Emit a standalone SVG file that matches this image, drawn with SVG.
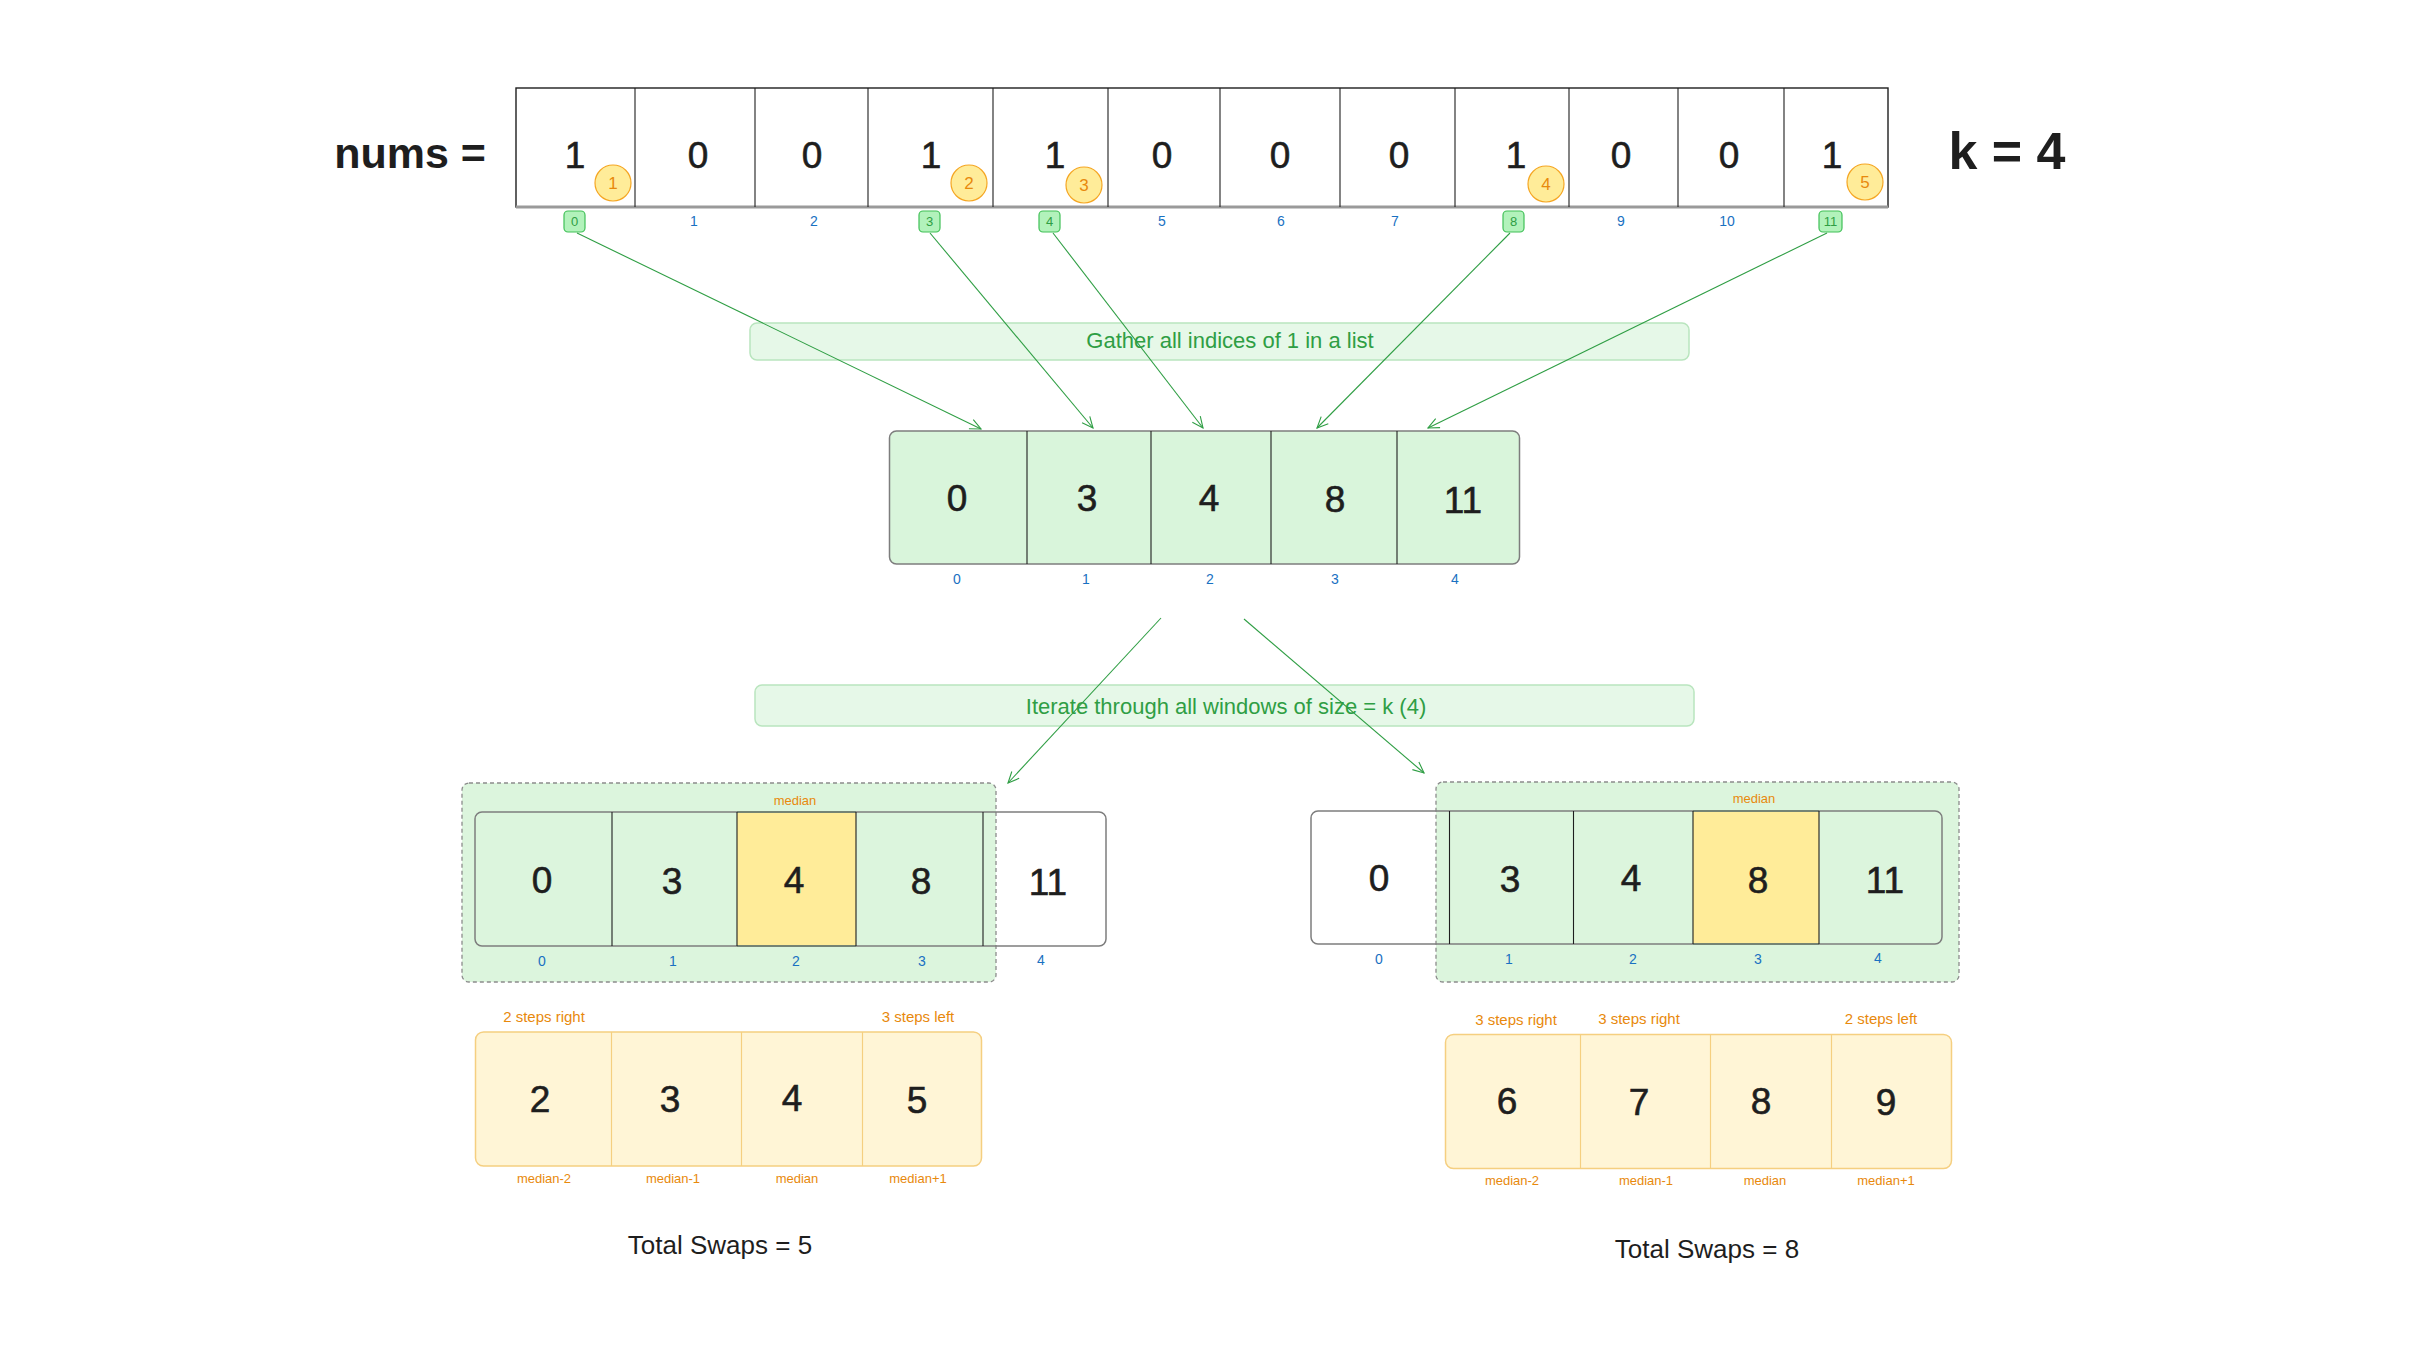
<svg xmlns="http://www.w3.org/2000/svg" width="2420" height="1372" viewBox="0 0 2420 1372">
<style>
text{font-family:"Liberation Sans",Arial,sans-serif;text-anchor:middle}
.dig{font-size:37px;fill:#1e1e1e;stroke:#1e1e1e;stroke-width:0.6}
.idx{font-size:14px;fill:#1971c2}
.gidx{font-size:13px;fill:#2f9e44}
.circ{font-size:17px;fill:#e8890c}
.lbl{font-size:22px;fill:#2f9e44}
.org{font-size:15px;fill:#e8890c}
.med{font-size:13px;fill:#e8890c}
.tot{font-size:26px;fill:#1e1e1e}
.div{stroke:#1e1e1e;stroke-width:1.1}
.ydiv{stroke:#f5cf80;stroke-width:1.2}
.lblbox{fill:#e6f8e8;stroke:#b9e5be;stroke-width:1.5}
.garr{fill:#d9f5db;stroke:#7d7d7d;stroke-width:1.5}
.win{fill:#dcf5dd;stroke:#8c8c8c;stroke-width:1.3;stroke-dasharray:4 3}
.arrbox{fill:none;stroke:#7d7d7d;stroke-width:1.5}
.yarr{fill:#fff5d6;stroke:#f5cf80;stroke-width:1.5}
.ycell{fill:#ffec99}
.gbox{fill:#b2f2bb;stroke:#40c057;stroke-width:1.2}
.oc{fill:#ffec99;stroke:#f5a623;stroke-width:1.2}
.conn{stroke:#2f9e44;stroke-width:1.1;fill:none;marker-end:url(#ah)}
</style>
<defs>
<marker id="ah" markerWidth="14" markerHeight="14" refX="12" refY="7" orient="auto" markerUnits="userSpaceOnUse">
<path d="M1,2 L12,7 L1,12" fill="none" stroke="#2f9e44" stroke-width="1.1"/>
</marker>
</defs>
<rect width="2420" height="1372" fill="#ffffff"/>

<g id="nums-label"><text x="410" y="168" style="font-size:43px;font-weight:bold;fill:#1e1e1e">nums =</text></g>
<g id="k-label"><text x="2007" y="169" style="font-size:52px;font-weight:bold;fill:#1e1e1e">k = 4</text></g>

<g id="nums-array">
<rect x="516" y="88" width="1372" height="119" fill="#ffffff" stroke="#1e1e1e" stroke-width="1.4"/>
<line x1="516" y1="207" x2="1888" y2="207" stroke="#9a9a9a" stroke-width="3"/>
<line class="div" x1="635" y1="88" x2="635" y2="207"/>
<line class="div" x1="755" y1="88" x2="755" y2="207"/>
<line class="div" x1="868" y1="88" x2="868" y2="207"/>
<line class="div" x1="993" y1="88" x2="993" y2="207"/>
<line class="div" x1="1108" y1="88" x2="1108" y2="207"/>
<line class="div" x1="1220" y1="88" x2="1220" y2="207"/>
<line class="div" x1="1340" y1="88" x2="1340" y2="207"/>
<line class="div" x1="1455" y1="88" x2="1455" y2="207"/>
<line class="div" x1="1569" y1="88" x2="1569" y2="207"/>
<line class="div" x1="1678" y1="88" x2="1678" y2="207"/>
<line class="div" x1="1784" y1="88" x2="1784" y2="207"/>
<text class="dig" x="575" y="168">1</text>
<text class="dig" x="698" y="168">0</text>
<text class="dig" x="812" y="168">0</text>
<text class="dig" x="931" y="168">1</text>
<text class="dig" x="1055" y="168">1</text>
<text class="dig" x="1162" y="168">0</text>
<text class="dig" x="1280" y="168">0</text>
<text class="dig" x="1399" y="168">0</text>
<text class="dig" x="1516" y="168">1</text>
<text class="dig" x="1621" y="168">0</text>
<text class="dig" x="1729" y="168">0</text>
<text class="dig" x="1832" y="168">1</text>
</g>

<g id="one-markers">
<circle class="oc" cx="613" cy="183" r="18"/><text class="circ" x="613" y="189">1</text>
<circle class="oc" cx="969" cy="183" r="18"/><text class="circ" x="969" y="189">2</text>
<circle class="oc" cx="1084" cy="185" r="18"/><text class="circ" x="1084" y="191">3</text>
<circle class="oc" cx="1546" cy="184" r="18"/><text class="circ" x="1546" y="190">4</text>
<circle class="oc" cx="1865" cy="182" r="18"/><text class="circ" x="1865" y="188">5</text>
</g>

<g id="nums-indices">
<rect class="gbox" x="564" y="211" width="21" height="21" rx="4"/><text class="gidx" x="574.5" y="226">0</text>
<text class="idx" x="694" y="226">1</text>
<text class="idx" x="814" y="226">2</text>
<rect class="gbox" x="919" y="211" width="21" height="21" rx="4"/><text class="gidx" x="929.5" y="226">3</text>
<rect class="gbox" x="1039" y="211" width="21" height="21" rx="4"/><text class="gidx" x="1049.5" y="226">4</text>
<text class="idx" x="1162" y="226">5</text>
<text class="idx" x="1281" y="226">6</text>
<text class="idx" x="1395" y="226">7</text>
<rect class="gbox" x="1503" y="211" width="21" height="21" rx="4"/><text class="gidx" x="1513.5" y="226">8</text>
<text class="idx" x="1621" y="226">9</text>
<text class="idx" x="1727" y="226">10</text>
<rect class="gbox" x="1819" y="211" width="23" height="21" rx="4"/><text class="gidx" x="1830.5" y="226">11</text>
</g>

<g id="gather-label">
<rect class="lblbox" x="750" y="323" width="939" height="37" rx="7"/>
<text class="lbl" x="1230" y="348">Gather all indices of 1 in a list</text>
</g>

<g id="ones-list">
<rect class="garr" x="889.5" y="431" width="630" height="133" rx="7"/>
<line class="div" x1="1027" y1="431" x2="1027" y2="564"/>
<line class="div" x1="1151" y1="431" x2="1151" y2="564"/>
<line class="div" x1="1271" y1="431" x2="1271" y2="564"/>
<line class="div" x1="1397" y1="431" x2="1397" y2="564"/>
<text class="dig" x="957" y="511">0</text>
<text class="dig" x="1087" y="511">3</text>
<text class="dig" x="1209" y="511">4</text>
<text class="dig" x="1335" y="512">8</text>
<text class="dig" x="1463" y="513">11</text>
<text class="idx" x="957" y="584">0</text>
<text class="idx" x="1086" y="584">1</text>
<text class="idx" x="1210" y="584">2</text>
<text class="idx" x="1335" y="584">3</text>
<text class="idx" x="1455" y="584">4</text>
</g>

<g id="iterate-label">
<rect class="lblbox" x="755" y="685" width="939" height="41" rx="7"/>
<text class="lbl" x="1226" y="714">Iterate through all windows of size = k (4)</text>
</g>

<g id="window-1">
<rect class="win" x="462" y="783" width="534" height="199" rx="7"/>
<rect class="ycell" x="737" y="812" width="119" height="134"/>
<line x1="737" y1="812" x2="856" y2="812" stroke="#2f7d3a" stroke-width="1.5"/>
<line x1="737" y1="946" x2="856" y2="946" stroke="#2f7d3a" stroke-width="1.5"/>
<rect class="arrbox" x="475" y="812" width="631" height="134" rx="7"/>
<line class="div" x1="612" y1="812" x2="612" y2="946"/>
<line class="div" x1="737" y1="812" x2="737" y2="946"/>
<line class="div" x1="856" y1="812" x2="856" y2="946"/>
<line class="div" x1="983" y1="812" x2="983" y2="946"/>
<text class="med" x="795" y="805">median</text>
<text class="dig" x="542" y="893">0</text>
<text class="dig" x="672" y="894">3</text>
<text class="dig" x="794" y="893">4</text>
<text class="dig" x="921" y="894">8</text>
<text class="dig" x="1048" y="895">11</text>
<text class="idx" x="542" y="966">0</text>
<text class="idx" x="673" y="966">1</text>
<text class="idx" x="796" y="966">2</text>
<text class="idx" x="922" y="966">3</text>
<text class="idx" x="1041" y="965">4</text>
</g>

<g id="window-2">
<rect class="win" x="1436" y="782" width="523" height="200" rx="7"/>
<rect class="ycell" x="1693" y="811" width="126" height="133"/>
<line x1="1693" y1="811" x2="1819" y2="811" stroke="#2f7d3a" stroke-width="1.5"/>
<line x1="1693" y1="944" x2="1819" y2="944" stroke="#2f7d3a" stroke-width="1.5"/>
<rect class="arrbox" x="1311" y="811" width="631" height="133" rx="7"/>
<line class="div" x1="1449.5" y1="811" x2="1449.5" y2="944"/>
<line class="div" x1="1573.5" y1="811" x2="1573.5" y2="944"/>
<line class="div" x1="1693" y1="811" x2="1693" y2="944"/>
<line class="div" x1="1819" y1="811" x2="1819" y2="944"/>
<text class="med" x="1754" y="803">median</text>
<text class="dig" x="1379" y="891">0</text>
<text class="dig" x="1510" y="892">3</text>
<text class="dig" x="1631" y="891">4</text>
<text class="dig" x="1758" y="893">8</text>
<text class="dig" x="1885" y="893">11</text>
<text class="idx" x="1379" y="964">0</text>
<text class="idx" x="1509" y="964">1</text>
<text class="idx" x="1633" y="964">2</text>
<text class="idx" x="1758" y="964">3</text>
<text class="idx" x="1878" y="963">4</text>
</g>

<g id="targets-1">
<text class="org" x="544" y="1022">2 steps right</text>
<text class="org" x="918" y="1022">3 steps left</text>
<rect class="yarr" x="475.5" y="1032" width="506" height="134" rx="8"/>
<line class="ydiv" x1="611.5" y1="1032" x2="611.5" y2="1166"/>
<line class="ydiv" x1="741.5" y1="1032" x2="741.5" y2="1166"/>
<line class="ydiv" x1="862.5" y1="1032" x2="862.5" y2="1166"/>
<text class="dig" x="540" y="1112">2</text>
<text class="dig" x="670" y="1112">3</text>
<text class="dig" x="792" y="1111">4</text>
<text class="dig" x="917" y="1113">5</text>
<text class="med" x="544" y="1183">median-2</text>
<text class="med" x="673" y="1183">median-1</text>
<text class="med" x="797" y="1183">median</text>
<text class="med" x="918" y="1183">median+1</text>
</g>

<g id="targets-2">
<text class="org" x="1516" y="1025">3 steps right</text>
<text class="org" x="1639" y="1024">3 steps right</text>
<text class="org" x="1881" y="1024">2 steps left</text>
<rect class="yarr" x="1445.5" y="1034.5" width="506" height="134" rx="8"/>
<line class="ydiv" x1="1580.5" y1="1034.5" x2="1580.5" y2="1168.5"/>
<line class="ydiv" x1="1710.5" y1="1034.5" x2="1710.5" y2="1168.5"/>
<line class="ydiv" x1="1831.5" y1="1034.5" x2="1831.5" y2="1168.5"/>
<text class="dig" x="1507" y="1114">6</text>
<text class="dig" x="1639" y="1115">7</text>
<text class="dig" x="1761" y="1114">8</text>
<text class="dig" x="1886" y="1115">9</text>
<text class="med" x="1512" y="1185">median-2</text>
<text class="med" x="1646" y="1185">median-1</text>
<text class="med" x="1765" y="1185">median</text>
<text class="med" x="1886" y="1185">median+1</text>
</g>

<g id="total-1"><text class="tot" x="720" y="1254">Total Swaps = 5</text></g>
<g id="total-2"><text class="tot" x="1707" y="1258">Total Swaps = 8</text></g>

<g id="connectors">
<line class="conn" x1="577" y1="233" x2="981" y2="429"/>
<line class="conn" x1="930" y1="233" x2="1093" y2="428"/>
<line class="conn" x1="1053" y1="233" x2="1203" y2="428"/>
<line class="conn" x1="1510" y1="233" x2="1317" y2="428"/>
<line class="conn" x1="1827" y1="233" x2="1428" y2="428"/>
<line class="conn" x1="1161" y1="618" x2="1008" y2="783"/>
<line class="conn" x1="1244" y1="619" x2="1424" y2="773"/>
</g>
</svg>
